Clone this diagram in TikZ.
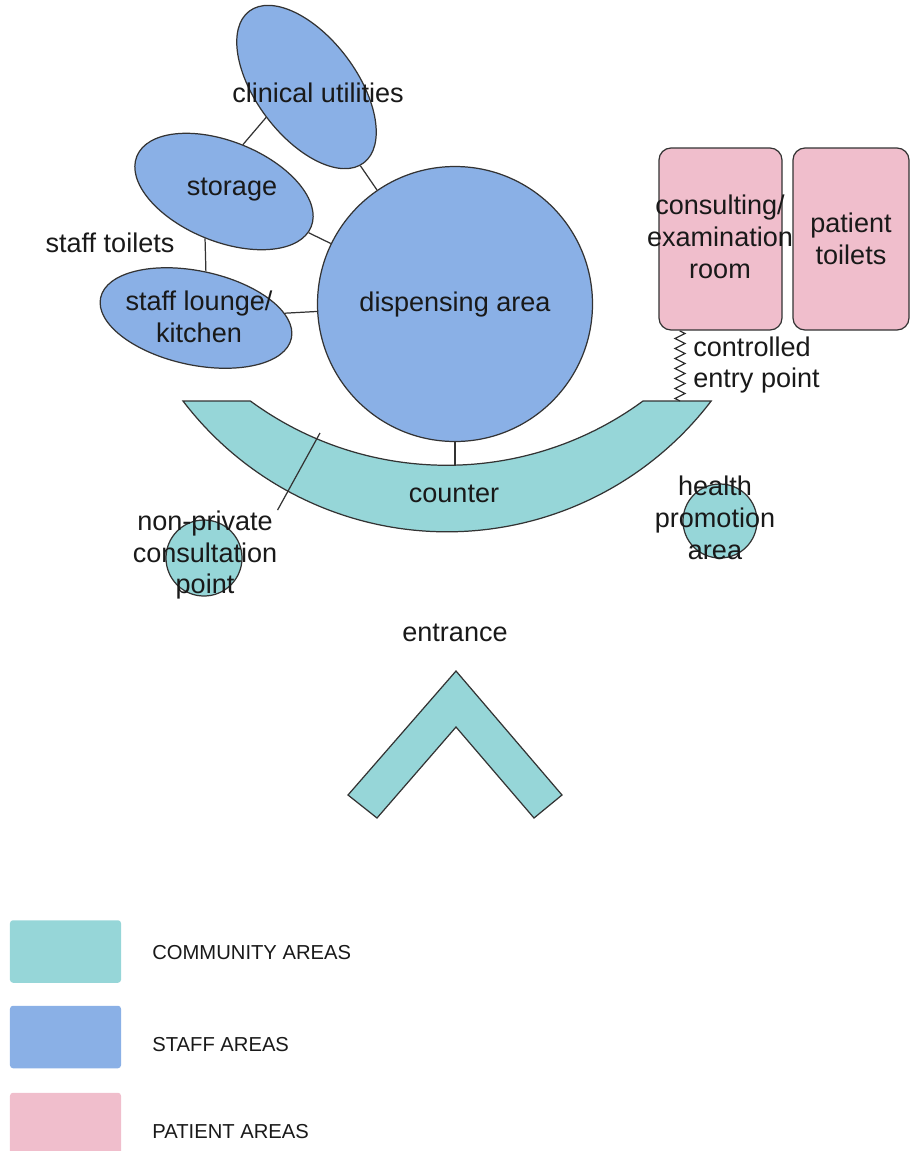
\documentclass[tikz,border=0pt]{standalone}
\usepackage{fontspec}
\setmainfont{Liberation Sans}
\usetikzlibrary{shapes.geometric,decorations.pathmorphing}
\definecolor{community}{HTML}{96D6D8}
\definecolor{staff}{HTML}{8AB0E6}
\definecolor{patient}{HTML}{F0BECC}
\definecolor{edge}{HTML}{333333}
\begin{document}
\begin{tikzpicture}[
  area/.style={draw=edge, line width=0.7pt},
  staffarea/.style={area, fill=staff},
  communityarea/.style={area, fill=community},
  patientarea/.style={area, fill=patient, rounded corners=0.24cm},
  room/.style={font=\fontsize{15.4}{18.2}\selectfont, align=center, inner sep=0pt, text=black!90},
  link/.style={draw=edge, line width=0.7pt},
  swatch/.style={rounded corners=0.06cm, minimum width=2.22cm, minimum height=1.25cm, inner sep=0pt},
  key/.style={font=\fontsize{11.5}{14}\selectfont, anchor=west, inner sep=0pt, text=black!90}]
\useasboundingbox (0,0) rectangle (18.2,-23.02);
\filldraw[communityarea] (3.66,-8.02) arc[start angle=217.3, end angle=322.7, radius=6.64] -- (12.86,-8.02) arc[start angle=306.25, end angle=233.75, radius=6.64] -- cycle;
\node[room] (counter) at (9.08,-9.88) {counter};
\coordinate (counter inner) at (9.1,-9.3);
\coordinate (entry) at (13.6,-8.02);
\coordinate (np top) at (6.4,-8.66);
\node[staffarea, circle, room, minimum size=5.5cm] (dispensing) at (9.1,-6.08) {dispensing area};
\node[staffarea, ellipse, minimum width=3.8cm, minimum height=2cm, inner sep=0pt, rotate=-53] (clinical) at (6.13,-1.74) {};
\node[staffarea, ellipse, minimum width=3.76cm, minimum height=2cm, inner sep=0pt, rotate=-22] (storage) at (4.48,-3.83) {};
\node[staffarea, ellipse, minimum width=3.9cm, minimum height=1.88cm, inner sep=0pt, rotate=-12] (lounge) at (3.92,-6.36) {};
\node[room] (clinical label) at (6.36,-1.86) {clinical utilities};
\node[room] (storage label) at (4.64,-3.8) {storage};
\node[room] (lounge label) at (3.98,-6.34) {staff lounge/\\kitchen};
\node[room] (toilets label) at (2.2,-4.86) {staff toilets};
\draw[link] (clinical) -- (dispensing);
\draw[link] (storage) -- (dispensing);
\draw[link] (lounge) -- (dispensing);
\draw[link] (storage.north) -- (clinical.south);
\draw[link] (storage.south) -- (lounge.north);
\draw[link] (dispensing.south) -- (counter inner);
\node[patientarea, minimum width=2.46cm, minimum height=3.64cm] (consult) at (14.41,-4.78) {};
\node[room] (consult label) at (14.4,-4.74) {consulting/\\examination\\room};
\node[patientarea, room, minimum width=2.32cm, minimum height=3.64cm] (patient toilets) at (17.02,-4.78) {patient\\toilets};
\draw[link, decorate, decoration={zigzag, segment length=0.2cm, amplitude=0.1cm}] (entry) -- (entry |- consult.south);
\node[room, align=left, anchor=west] (entry label) at (13.86,-7.3) {controlled\\entry point};
\node[communityarea, circle, minimum size=1.52cm, inner sep=0pt] (npc) at (4.08,-11.16) {};
\node[room] (npc label) at (4.1,-11.1) {non-private\\consultation\\point};
\draw[link] (np top) -- (npc label.north east);
\node[communityarea, circle, minimum size=1.48cm, inner sep=0pt] (hpa) at (14.4,-10.42) {};
\node[room] (hpa label) at (14.3,-10.36) {health\\promotion\\area};
\filldraw[communityarea] (9.12,-13.42) -- (11.24,-15.9) -- (10.68,-16.36) -- (9.12,-14.54) -- (7.54,-16.36) -- (6.96,-15.9) -- cycle;
\node[room] (entrance) at (9.1,-12.66) {entrance};
\node[swatch, fill=community] (community key) at (1.31,-19.03) {};
\node[key] (community text) at (3.04,-19.06) {COMMUNITY AREAS};
\node[swatch, fill=staff] (staff key) at (1.31,-20.74) {};
\node[key] (staff text) at (3.04,-20.9) {STAFF AREAS};
\node[swatch, fill=patient] (patient key) at (1.31,-22.48) {};
\node[key] (patient text) at (3.04,-22.64) {PATIENT AREAS};
\end{tikzpicture}
\end{document}
